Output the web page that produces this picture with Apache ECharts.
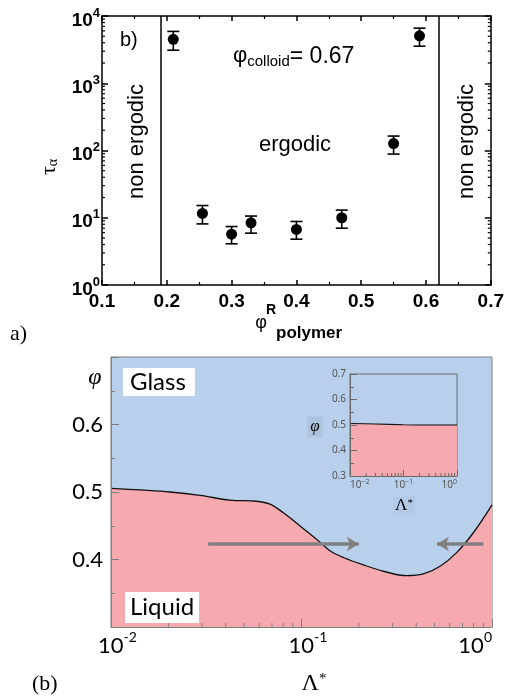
<!DOCTYPE html>
<html>
<head>
<meta charset="utf-8">
<script src="https://cdn.jsdelivr.net/npm/echarts@6/dist/echarts.min.js"></script>
<style>
  html, body { margin: 0; padding: 0; background: #fff; }
  #c { width: 507px; height: 700px; }
</style>
</head>
<body>
<div id="c"></div>
<script>
// ---- Panel a: relaxation time tau_alpha vs polymer fraction ----
const phiPolymer = [0.21, 0.255, 0.30, 0.33, 0.40, 0.47, 0.55, 0.59];
const tauAlpha   = [4500, 11.6, 5.7, 8.4, 6.7, 10.0, 127, 5070];
const tauUpper   = [5900, 15.2, 7.4, 10.6, 8.8, 13.0, 164, 6600];
const tauLower   = [3100, 8.1, 4.1, 5.9, 4.8, 7.0, 88.5, 3560];
const ergodicBounds = [0.19, 0.62];
const topXTicks = ['0.1', '0.2', '0.3', '0.4', '0.5', '0.6', '0.7'];

// ---- Panel b: glass line in the (Lambda*, phi) plane ----
const lambdaStar = [0.01, 0.0142, 0.0204, 0.0293, 0.042, 0.058, 0.0683, 0.080, 0.098, 0.120,
                    0.141, 0.166, 0.211, 0.269, 0.357, 0.436, 0.534, 0.654, 0.80, 1.0];
const phiGlass   = [0.5055, 0.503, 0.500, 0.495, 0.488, 0.4863, 0.482, 0.4696, 0.450, 0.430,
                    0.413, 0.403, 0.392, 0.3826, 0.376, 0.3786, 0.390, 0.4106, 0.440, 0.481];

// inset: glass line without re-entrance
const insetLambda = [0.01, 0.03, 0.1, 0.3, 1.0];
const insetPhi    = [0.506, 0.504, 0.501, 0.500, 0.500];

// arrows at constant phi: [from Lambda*, to Lambda*]
const arrowPhi = 0.423;
const arrowFrom = [0.0324, 0.90];
const arrowTo   = [0.20, 0.514];

const BLUE = '#b8d0ec';
const PINK = '#f7a9b0';
const GREY = '#7f7f7f';

// log-axis minor tick positions (2..9 x 10^k)
function minorLogValues(lo, hi) {
  const out = [];
  for (let d = lo; d < hi; d *= 10) {
    for (let m = 2; m <= 9; m++) out.push(+(m * d).toPrecision(3));
  }
  return out;
}

function expLabel(v) {
  return Math.round(Math.log10(v));
}

const chart = echarts.init(document.getElementById('c'));

const errorBarItem = function (params, api) {
  const x = api.value(0);
  const hi = api.coord([x, api.value(1)]);
  const lo = api.coord([x, api.value(2)]);
  const half = 6;
  const st = { stroke: '#000', lineWidth: 1.6 };
  return {
    type: 'group',
    children: [
      { type: 'line', shape: { x1: hi[0], y1: hi[1], x2: lo[0], y2: lo[1] }, style: st },
      { type: 'line', shape: { x1: hi[0] - half, y1: hi[1], x2: hi[0] + half, y2: hi[1] }, style: st },
      { type: 'line', shape: { x1: lo[0] - half, y1: lo[1], x2: lo[0] + half, y2: lo[1] }, style: st }
    ]
  };
};

// minor ticks on left and right edges of a log y axis
const yMinorTicks = function (params, api) {
  const cs = params.coordSys;
  const y = api.coord([api.value(0), api.value(1)])[1];
  const st = { stroke: '#000', lineWidth: 1.2 };
  return {
    type: 'group',
    children: [
      { type: 'line', shape: { x1: cs.x, y1: y, x2: cs.x + 3, y2: y }, style: st },
      { type: 'line', shape: { x1: cs.x + cs.width, y1: y, x2: cs.x + cs.width - 3, y2: y }, style: st }
    ]
  };
};

// minor ticks on the bottom edge of a log x axis
function xMinorTicks(len, color) {
  return function (params, api) {
    const cs = params.coordSys;
    const x = api.coord([api.value(0), api.value(1)])[0];
    const yb = cs.y + cs.height;
    return { type: 'line', shape: { x1: x, y1: yb, x2: x, y2: yb - len }, style: { stroke: color, lineWidth: 1 } };
  };
}

const fontA = 'Liberation Sans, Arial, sans-serif';
const fontB = 'Lato, Open Sans, sans-serif';
const fontSerif = 'Liberation Serif, DejaVu Serif, serif';

const option = {
  animation: false,
  backgroundColor: '#fff',
  grid: [
    { left: 102, top: 16, width: 390, height: 269 },
    { left: 111, top: 357, width: 381, height: 270, show: true, backgroundColor: BLUE, borderColor: GREY, borderWidth: 1 },
    { left: 350, top: 374, width: 107, height: 102, show: true, backgroundColor: BLUE, borderColor: '#6a6a6a', borderWidth: 1 }
  ],
  xAxis: [
    {
      gridIndex: 0, type: 'value', min: 0.1, max: 0.7, interval: 0.1, position: 'bottom',
      axisLine: { lineStyle: { color: '#000', width: 1.5 } },
      axisTick: { inside: true, length: 5, lineStyle: { color: '#000', width: 1.5 } },
      minorTick: { show: true, splitNumber: 2, length: 3, lineStyle: { color: '#000', width: 1.2 } },
      splitLine: { show: false },
      axisLabel: {
        margin: 7, color: '#000', fontFamily: fontA, fontWeight: 'bold', fontSize: 19,
        formatter: function (v) { return topXTicks[Math.round((v - 0.1) * 10)]; }
      }
    },
    {
      gridIndex: 0, type: 'value', min: 0.1, max: 0.7, interval: 0.1, position: 'top',
      axisLine: { lineStyle: { color: '#000', width: 1.5 } },
      axisTick: { inside: true, length: 5, lineStyle: { color: '#000', width: 1.5 } },
      minorTick: { show: true, splitNumber: 2, length: 3, lineStyle: { color: '#000', width: 1.2 } },
      splitLine: { show: false }, axisLabel: { show: false }
    },
    {
      gridIndex: 1, type: 'log', logBase: 10, min: 0.01, max: 1, z: 10,
      axisLine: { lineStyle: { color: GREY, width: 1 } },
      axisTick: { inside: true, length: 8, lineStyle: { color: GREY, width: 1 } },
      splitLine: { show: false },
      axisLabel: {
        margin: 3, alignMaxLabel: 'right',
        formatter: function (v) {
          const e = expLabel(v);
          return '{p' + String(e).length + '| }{b|10}{s|' + e + '}';
        },
        rich: {
          b: { fontFamily: fontB, fontSize: 22, color: '#000', lineHeight: 24, padding: [7, 0, 0, 0] },
          s: { fontFamily: fontB, fontSize: 14, color: '#000', verticalAlign: 'top', lineHeight: 14 },
          p1: { width: 8 }, p2: { width: 13 }
        }
      }
    },
    {
      gridIndex: 2, type: 'log', logBase: 10, min: 0.01, max: 1, z: 10,
      axisLine: { lineStyle: { color: '#6a6a6a', width: 1 } },
      axisTick: { inside: true, length: 6, lineStyle: { color: '#6a6a6a', width: 1 } },
      splitLine: { show: false },
      axisLabel: {
        margin: 2, alignMinLabel: 'left', alignMaxLabel: 'right',
        formatter: function (v) {
          return '{b|10}{s|' + String(expLabel(v)).replace('-', '\u2212') + '}';
        },
        rich: {
          b: { fontFamily: 'Noto Sans, sans-serif', fontSize: 10, color: '#555', lineHeight: 11, padding: [3, 0, 0, 0] },
          s: { fontFamily: 'Noto Sans, sans-serif', fontSize: 7, color: '#555', verticalAlign: 'top', lineHeight: 8 }
        }
      }
    }
  ],
  yAxis: [
    {
      gridIndex: 0, type: 'log', logBase: 10, min: 1, max: 10000, position: 'left',
      axisLine: { lineStyle: { color: '#000', width: 1.5 } },
      axisTick: { inside: true, length: 6, lineStyle: { color: '#000', width: 1.5 } },
      splitLine: { show: false },
      axisLabel: {
        margin: 2,
        formatter: function (v) { return '{b|10}{s|' + expLabel(v) + '}'; },
        rich: {
          b: { fontFamily: fontA, fontWeight: 'bold', fontSize: 19, color: '#000', lineHeight: 19, padding: [9, 0, 0, 0] },
          s: { fontFamily: fontA, fontWeight: 'bold', fontSize: 13, color: '#000', verticalAlign: 'top', lineHeight: 13 }
        }
      }
    },
    {
      gridIndex: 0, type: 'log', logBase: 10, min: 1, max: 10000, position: 'right',
      axisLine: { lineStyle: { color: '#000', width: 1.5 } },
      axisTick: { inside: true, length: 6, lineStyle: { color: '#000', width: 1.5 } },
      splitLine: { show: false }, axisLabel: { show: false }
    },
    {
      gridIndex: 1, type: 'value', min: 0.3, max: 0.7, interval: 0.1, z: 10,
      axisLine: { show: true, lineStyle: { color: GREY, width: 1 } },
      axisTick: { show: true, inside: true, length: 8, lineStyle: { color: GREY, width: 1 } },
      minorTick: { show: true, splitNumber: 2, length: 4, lineStyle: { color: GREY, width: 1 } },
      splitLine: { show: false },
      axisLabel: {
        margin: 8, showMinLabel: false, showMaxLabel: false,
        fontFamily: fontB, fontSize: 22, color: '#000',
        formatter: function (v) { return v.toFixed(1); }
      }
    },
    {
      gridIndex: 2, type: 'value', min: 0.3, max: 0.7, interval: 0.1, z: 10,
      axisLine: { show: true, lineStyle: { color: '#6a6a6a', width: 1 } },
      axisTick: { show: true, inside: true, length: 7, lineStyle: { color: '#6a6a6a', width: 1 } },
      minorTick: { show: true, splitNumber: 2, length: 4, lineStyle: { color: '#6a6a6a', width: 1 } },
      splitLine: { show: false },
      axisLabel: {
        margin: 4, fontFamily: 'Noto Sans, sans-serif', fontSize: 10, color: '#555',
        formatter: function (v) { return v.toFixed(1); }
      }
    }
  ],
  series: [
    {
      type: 'scatter', xAxisIndex: 0, yAxisIndex: 0, symbol: 'circle', symbolSize: 11,
      itemStyle: { color: '#000', opacity: 1 }, z: 5,
      data: phiPolymer.map((x, i) => [x, tauAlpha[i]]),
      markLine: {
        silent: true, symbol: ['none', 'none'], label: { show: false },
        lineStyle: { color: '#000', width: 1.5, type: 'solid', opacity: 1 },
        emphasis: { disabled: true },
        data: ergodicBounds.map(b => ({ xAxis: b }))
      }
    },
    {
      type: 'custom', xAxisIndex: 0, yAxisIndex: 0, renderItem: errorBarItem, z: 4,
      encode: { x: 0, y: [1, 2] },
      data: phiPolymer.map((x, i) => [x, tauUpper[i], tauLower[i]])
    },
    {
      type: 'custom', xAxisIndex: 0, yAxisIndex: 0, renderItem: yMinorTicks, z: 6, clip: false, silent: true,
      encode: { x: 0, y: 1 },
      data: minorLogValues(1, 10000).map(v => [0.4, v])
    },
    {
      type: 'line', xAxisIndex: 2, yAxisIndex: 2, smooth: 0.35, symbol: 'none', z: 3,
      lineStyle: { color: '#111', width: 1.3 },
      areaStyle: { color: PINK, opacity: 1, origin: 'start' },
      data: lambdaStar.map((x, i) => [x, phiGlass[i]]),
      markLine: {
        silent: true, symbol: ['none', 'arrow'], symbolSize: [11, 12], label: { show: false },
        lineStyle: { color: '#808080', width: 3.5, type: 'solid', opacity: 1 },
        emphasis: { disabled: true },
        data: arrowFrom.map((f, i) => [{ coord: [f, arrowPhi] }, { coord: [arrowTo[i], arrowPhi] }])
      }
    },
    {
      type: 'custom', xAxisIndex: 2, yAxisIndex: 2, renderItem: xMinorTicks(4, GREY), z: 11, clip: false, silent: true,
      encode: { x: 0, y: 1 },
      data: minorLogValues(0.01, 1).map(v => [v, 0.5])
    },
    {
      type: 'line', xAxisIndex: 3, yAxisIndex: 3, smooth: 0.3, symbol: 'none', z: 3,
      lineStyle: { color: '#111', width: 1.1 },
      areaStyle: { color: PINK, opacity: 1, origin: 'start' },
      data: insetLambda.map((x, i) => [x, insetPhi[i]])
    },
    {
      type: 'custom', xAxisIndex: 3, yAxisIndex: 3, renderItem: xMinorTicks(3, '#6a6a6a'), z: 11, clip: false, silent: true,
      encode: { x: 0, y: 1 },
      data: minorLogValues(0.01, 1).map(v => [v, 0.5])
    }
  ],
  graphic: [
    // panel a annotations
    { type: 'text', x: 120, y: 40, style: { text: 'b)', font: '20px ' + fontA, fill: '#000', verticalAlign: 'middle' } },
    {
      type: 'text', x: 233, y: 57,
      style: {
        text: '{p|\u03c6}{s|colloid}{n|= 0.67}', verticalAlign: 'middle',
        rich: {
          p: { font: '22px ' + fontA, fill: '#000', lineHeight: 24, verticalAlign: 'top' },
          s: { font: '15px ' + fontA, fill: '#000', lineHeight: 16, padding: [12, 0, 0, 0], verticalAlign: 'bottom' },
          n: { font: '23px ' + fontA, fill: '#000', lineHeight: 24, verticalAlign: 'top' }
        }
      }
    },
    { type: 'text', x: 295, y: 145, style: { text: 'ergodic', font: '22px ' + fontA, fill: '#000', align: 'center', verticalAlign: 'middle' } },
    { type: 'text', x: 136.5, y: 141.5, rotation: Math.PI / 2, style: { text: 'non ergodic', font: '22px ' + fontA, fill: '#000', align: 'center', verticalAlign: 'middle' } },
    { type: 'text', x: 466.5, y: 141.5, rotation: Math.PI / 2, style: { text: 'non ergodic', font: '22px ' + fontA, fill: '#000', align: 'center', verticalAlign: 'middle' } },
    {
      type: 'text', x: 49, y: 167, rotation: Math.PI / 2,
      style: {
        text: '{t|\u03c4}{a|\u03b1}', align: 'center', verticalAlign: 'middle',
        rich: {
          t: { font: '22px ' + fontSerif, fill: '#000', lineHeight: 22, verticalAlign: 'top' },
          a: { font: '14px ' + fontSerif, fill: '#000', lineHeight: 14, padding: [12, 0, 0, 0], verticalAlign: 'bottom' }
        }
      }
    },
    { type: 'text', x: 261, y: 323, style: { text: '\u03c6', font: '18px ' + fontA, fill: '#000', align: 'center', verticalAlign: 'middle' } },
    { type: 'text', x: 271, y: 310, style: { text: 'R', font: 'bold 14px ' + fontA, fill: '#000', align: 'center', verticalAlign: 'middle' } },
    { type: 'text', x: 276, y: 333, style: { text: 'polymer', font: 'bold 17px ' + fontA, fill: '#000', verticalAlign: 'middle' } },
    { type: 'text', x: 10, y: 334, style: { text: 'a)', font: '22px ' + fontSerif, fill: '#000', verticalAlign: 'middle' } },

    // panel b annotations
    { type: 'text', x: 95, y: 378, style: { text: '\u03c6', font: 'italic 24px ' + fontSerif, fill: '#000', align: 'center', verticalAlign: 'middle' } },
    {
      type: 'text', x: 123, y: 368, z: 20,
      style: { text: 'Glass', font: '24px ' + fontB, fill: '#000', lineHeight: 25, backgroundColor: '#fff', padding: [2, 9, 1, 7] }
    },
    {
      type: 'text', x: 125, y: 592, z: 20,
      style: { text: 'Liquid', font: '24px ' + fontB, fill: '#000', lineHeight: 25, backgroundColor: '#fff', padding: [3, 5, 3, 5] }
    },
    {
      type: 'text', x: 314, y: 684,
      style: {
        text: '{L|\u039b}{s|*}', align: 'center', verticalAlign: 'middle',
        rich: {
          L: { font: '24px ' + fontSerif, fill: '#000', lineHeight: 24, verticalAlign: 'bottom' },
          s: { font: '15px ' + fontSerif, fill: '#000', lineHeight: 15, verticalAlign: 'top' }
        }
      }
    },
    { type: 'text', x: 32, y: 684, style: { text: '(b)', font: '22px ' + fontSerif, fill: '#000', verticalAlign: 'middle' } },

    // inset labels
    { type: 'text', x: 315, y: 427, z: 20, style: { text: '\u03c6', font: 'italic 17px ' + fontSerif, fill: '#000', align: 'center', verticalAlign: 'middle', backgroundColor: '#adc4df', padding: [2, 3, 2, 3] } },
    {
      type: 'text', x: 404, y: 506, z: 20,
      style: {
        text: '{L|\u039b}{s|*}', align: 'center', verticalAlign: 'middle', backgroundColor: '#b2cae6', padding: [1, 2, 1, 2],
        rich: {
          L: { font: '17px ' + fontSerif, fill: '#000', lineHeight: 17, verticalAlign: 'bottom' },
          s: { font: '11px ' + fontSerif, fill: '#000', lineHeight: 11, verticalAlign: 'top' }
        }
      }
    }
  ]
};

chart.setOption(option);
</script>
</body>
</html>
